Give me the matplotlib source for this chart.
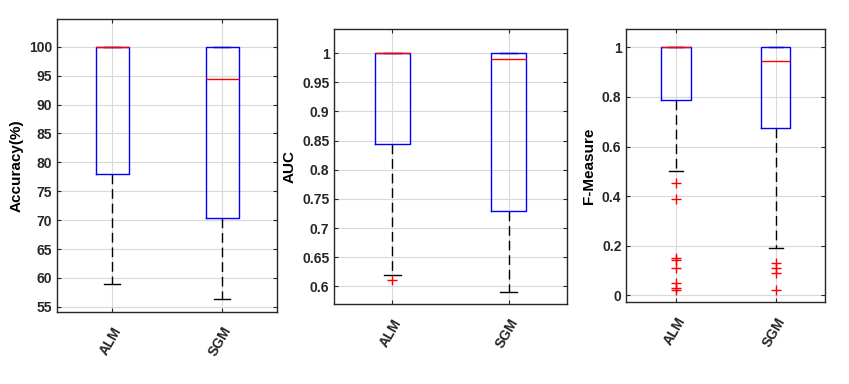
import numpy as np
import matplotlib
matplotlib.use("Agg")
import matplotlib.pyplot as plt

plt.rcParams['font.family'] = ['Liberation Sans', 'DejaVu Sans']
plt.rcParams['font.weight'] = 'bold'

methods = ["ALM", "SGM"]

# Accuracy (%)
acc_q1 = [78.0, 70.4]
acc_med = [100.0, 94.5]
acc_q3 = [100.0, 100.0]
acc_lo = [58.9, 56.3]
acc_hi = [100.0, 100.0]
acc_fliers = [[], []]

# AUC
auc_q1 = [0.845, 0.730]
auc_med = [1.0, 0.99]
auc_q3 = [1.0, 1.0]
auc_lo = [0.62, 0.59]
auc_hi = [1.0, 1.0]
auc_fliers = [[0.61], []]

# F-Measure
fm_q1 = [0.786, 0.676]
fm_med = [1.0, 0.945]
fm_q3 = [1.0, 1.0]
fm_lo = [0.50, 0.19]
fm_hi = [1.0, 1.0]
fm_fliers = [[0.452, 0.39, 0.149, 0.142, 0.109, 0.051, 0.030, 0.021],
             [0.129, 0.111, 0.091, 0.020]]

panels = [
    dict(q1=acc_q1, med=acc_med, q3=acc_q3, lo=acc_lo, hi=acc_hi, fl=acc_fliers,
         ylabel="Accuracy(%)", ylim=(54.1, 104.8),
         yticks=np.arange(55, 101, 5),
         pos=[57, 19, 277, 312]),
    dict(q1=auc_q1, med=auc_med, q3=auc_q3, lo=auc_lo, hi=auc_hi, fl=auc_fliers,
         ylabel="AUC", ylim=(0.5696, 1.041),
         yticks=np.round(np.arange(0.6, 1.001, 0.05), 2),
         pos=[334.3, 29.3, 566.7, 304]),
    dict(q1=fm_q1, med=fm_med, q3=fm_q3, lo=fm_lo, hi=fm_hi, fl=fm_fliers,
         ylabel="F-Measure", ylim=(-0.028, 1.073),
         yticks=np.round(np.arange(0, 1.001, 0.2), 1),
         pos=[626.3, 29.3, 825.3, 302.3]),
]

W, H = 849, 384
fig = plt.figure(figsize=(W / 100, H / 100), dpi=100)

for p in panels:
    x0, y0, x1, y1 = p['pos']
    ax = fig.add_axes([x0 / W, 1 - y1 / H, (x1 - x0) / W, (y1 - y0) / H])
    stats = []
    for i, m in enumerate(methods):
        stats.append(dict(label=m, q1=p['q1'][i], med=p['med'][i], q3=p['q3'][i],
                          whislo=p['lo'][i], whishi=p['hi'][i], fliers=p['fl'][i]))
    parts = ax.bxp(stats, positions=[1, 2], widths=0.3, capwidths=0.14,
                   boxprops=dict(color='#0000ff', linewidth=1.0),
                   medianprops=dict(color='#ff0000', linewidth=1.0),
                   whiskerprops=dict(color='black', linestyle=(0, (7, 3.5)), linewidth=1.0),
                   capprops=dict(color='black', linewidth=1.0),
                   flierprops=dict(marker='+', markeredgecolor='#ff0000', markersize=7,
                                   markeredgewidth=1.0, linestyle='none'))
    # draw order like matlab: whiskers/caps under box, median on top
    for ln in parts['whiskers'] + parts['caps']:
        ln.set_zorder(2.5)
    for ln in parts['boxes']:
        ln.set_zorder(3)
    for ln in parts['medians']:
        ln.set_zorder(3.5)
    for ln in parts['fliers']:
        ln.set_zorder(3.5)
    ax.set_xlim(0.5, 2.5)
    ax.set_ylim(*p['ylim'])
    ax.set_yticks(p['yticks'])
    ax.set_yticklabels([f"{v:g}" for v in p['yticks']], fontsize=10, fontweight='bold')
    ax.set_xticks([1, 2])
    ax.set_xticklabels(methods, rotation=60, ha='right', rotation_mode='anchor',
                       fontsize=10, fontweight='bold')
    ax.set_ylabel(p['ylabel'], fontsize=11, fontweight='bold')
    ax.grid(True, color='#d9d9d9', linewidth=0.8, zorder=0)
    ax.set_axisbelow(True)
    ax.tick_params(direction='in', length=3, width=0.8, top=True, right=True,
                   colors='#262626', labelcolor='#262626')
    ax.tick_params(axis='x', pad=9)
    for s in ax.spines.values():
        s.set_linewidth(1.0)
        s.set_color('#262626')

fig.savefig("out.png", dpi=100)
